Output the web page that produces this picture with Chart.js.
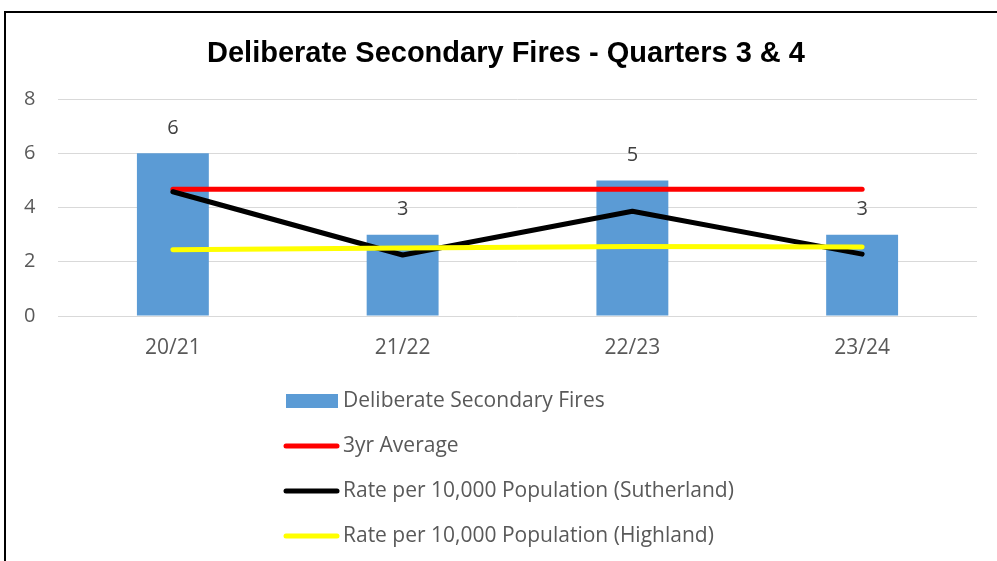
<!DOCTYPE html>
<html>
<head>
<meta charset="utf-8">
<script src="https://cdn.jsdelivr.net/npm/chart.js@4"></script>
<style>
  html, body { margin: 0; padding: 0; background: #fff; }
  #wrap { position: relative; width: 997px; height: 561px; }
</style>
</head>
<body>
<div id="wrap"><canvas id="c" width="997" height="561"></canvas></div>
<script>
const titleText = "Deliberate Secondary Fires - Quarters 3 & 4";
const categories = ["20/21", "21/22", "22/23", "23/24"];
const fires = [6, 3, 5, 3];
const avg3yr = [4.67, 4.67, 4.67, 4.67];
const rateSutherland = [4.58, 2.25, 3.86, 2.28];
const rateHighland = [2.44, 2.51, 2.56, 2.54];
const seriesNames = [
  "Deliberate Secondary Fires",
  "3yr Average",
  "Rate per 10,000 Population (Sutherland)",
  "Rate per 10,000 Population (Highland)"
];
const yTicks = [0, 2, 4, 6, 8];

const FONT = "'Open Sans', sans-serif";
const TEXT = "#595959";

const frame = {
  id: 'frame',
  beforeDraw(chart) {
    const ctx = chart.ctx;
    ctx.save();
    ctx.fillStyle = '#fff';
    ctx.fillRect(0, 0, chart.width, chart.height);
    ctx.strokeStyle = '#000';
    ctx.lineWidth = 2;
    ctx.beginPath();
    ctx.moveTo(5, chart.height + 2);
    ctx.lineTo(5, 12);
    ctx.lineTo(chart.width + 2, 12);
    ctx.stroke();
    ctx.restore();
  }
};

const barLabels = {
  id: 'barLabels',
  afterDatasetsDraw(chart) {
    const ctx = chart.ctx;
    const meta = chart.getDatasetMeta(0);
    ctx.save();
    ctx.font = "20px " + FONT;
    ctx.fillStyle = "#404040";
    ctx.textAlign = 'center';
    ctx.textBaseline = 'middle';
    meta.data.forEach((el, i) => {
      ctx.fillText(String(chart.data.datasets[0].data[i]), el.x, el.y - 25);
    });
    ctx.restore();
  }
};

const vLegend = {
  id: 'vLegend',
  afterDraw(chart) {
    const ctx = chart.ctx;
    const ds = chart.data.datasets;
    ctx.save();
    ctx.font = "21px " + FONT;
    ctx.textBaseline = 'middle';
    ctx.textAlign = 'left';
    ds.forEach((d, i) => {
      const cy = 401 + i * 45;
      if (d.type === 'bar') {
        ctx.fillStyle = d.backgroundColor;
        ctx.fillRect(286, cy - 7, 52, 14);
      } else {
        ctx.strokeStyle = d.borderColor;
        ctx.lineWidth = 5;
        ctx.lineCap = 'round';
        ctx.beginPath();
        ctx.moveTo(286, cy);
        ctx.lineTo(337, cy);
        ctx.stroke();
      }
      ctx.fillStyle = TEXT;
      ctx.fillText(d.label, 343, cy);
    });
    ctx.restore();
  }
};

const lineDs = (label, data, color, order) => ({
  type: 'line', label, data, borderColor: color, backgroundColor: color,
  borderWidth: 5, pointRadius: 0, borderCapStyle: 'round', borderJoinStyle: 'round',
  tension: 0, order
});

new Chart(document.getElementById('c'), {
  type: 'bar',
  data: {
    labels: categories,
    datasets: [
      { type: 'bar', label: seriesNames[0], data: fires, backgroundColor: '#5b9bd5',
        categoryPercentage: 1, barPercentage: 0.313, order: 4 },
      lineDs(seriesNames[1], avg3yr, '#ff0000', 3),
      lineDs(seriesNames[2], rateSutherland, '#000000', 2),
      lineDs(seriesNames[3], rateHighland, '#ffff00', 1)
    ]
  },
  options: {
    responsive: false,
    animation: false,
    events: [],
    layout: { padding: { left: 35, right: 20, top: 0, bottom: 0 } },
    plugins: {
      legend: { display: false },
      tooltip: { enabled: false },
      title: {
        display: true, text: titleText, color: '#000',
        font: { family: "'Liberation Sans', Arial, sans-serif", size: 29, weight: 'bold', lineHeight: 1.2 },
        padding: { top: 36.5, bottom: 27.7 }
      }
    },
    scales: {
      x: {
        grid: { display: false, drawTicks: false },
        border: { display: false },
        ticks: { color: TEXT, font: { family: FONT, size: 21 }, padding: 19 },
        afterFit(s) { s.height = 245; }
      },
      y: {
        min: 0, max: 8,
        afterBuildTicks(s) { s.ticks = yTicks.map(v => ({ value: v })); },
        grid: { color: '#d9d9d9', lineWidth: 1, drawTicks: false },
        border: { display: false },
        ticks: { color: TEXT, font: { family: FONT, size: 20 }, mirror: true, padding: -34 },
        afterFit(s) { s.width = 23; }
      }
    }
  },
  plugins: [frame, barLabels, vLegend]
});
</script>
</body>
</html>
